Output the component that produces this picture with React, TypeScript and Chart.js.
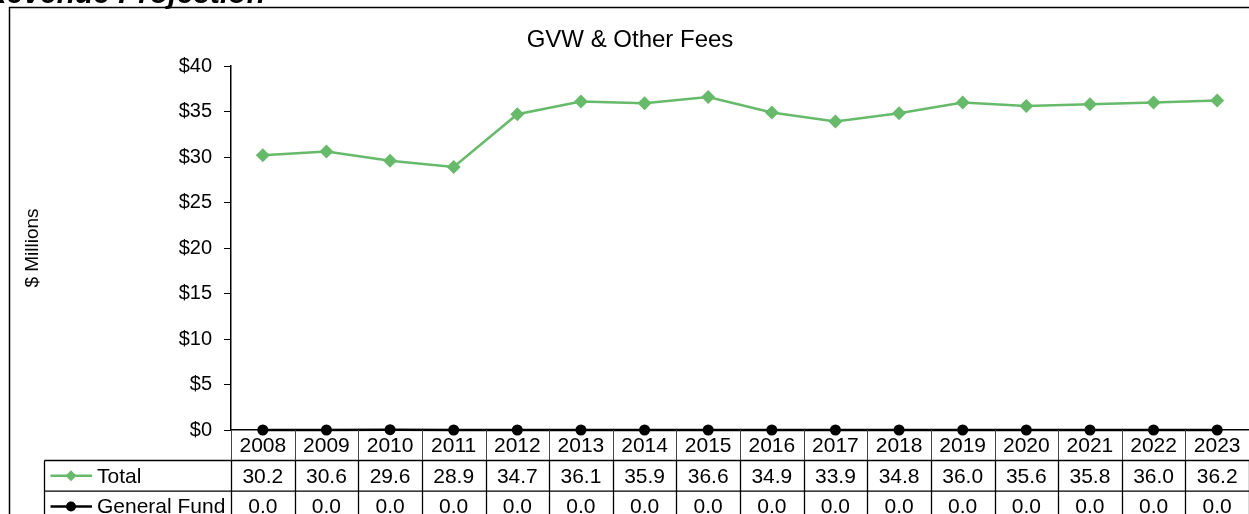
import React, { useEffect, useRef } from "react";
import { Chart, registerables } from "chart.js";

Chart.register(...registerables);

const years = ["2008", "2009", "2010", "2011", "2012", "2013", "2014", "2015", "2016", "2017", "2018", "2019", "2020", "2021", "2022", "2023"];
const totalValues = [30.2, 30.6, 29.6, 28.9, 34.7, 36.1, 35.9, 36.6, 34.9, 33.9, 34.8, 36.0, 35.6, 35.8, 36.0, 36.2];
const generalFundValues = [0.0, 0.0, 0.04, 0.0, 0.0, 0.0, 0.0, 0.0, 0.0, 0.0, 0.0, 0.0, 0.0, 0.0, 0.0, 0.0];
const seriesNames = ["Total", "General Fund"];
const chartTitle = "GVW & Other Fees";
const pageTitle = "Revenue Projection";
const yAxisTitle = "$ Millions";
const yMin = 0;
const yMax = 40;
const yStep = 5;

const GREEN = "#66BA6A";
const FONT = "Arial, 'Liberation Sans', sans-serif";
const VIEW_W = 1249;
const CANVAS_W = 1256;
const H = 514;

const framePlugin = {
  id: "frameAndTable",
  beforeDraw(chart: any) {
    const ctx = chart.ctx;
    ctx.save();
    ctx.fillStyle = "#fff";
    ctx.fillRect(0, 0, chart.width, chart.height);
    // chart border
    ctx.strokeStyle = "#000";
    ctx.lineWidth = 1.5;
    ctx.beginPath();
    ctx.moveTo(9.5, chart.height + 2);
    ctx.lineTo(9.5, 7.5);
    ctx.lineTo(chart.width + 2, 7.5);
    ctx.stroke();
    // page title (clipped at top)
    ctx.fillStyle = "#000";
    ctx.font = `italic bold 30px ${FONT}`;
    ctx.textAlign = "right";
    ctx.textBaseline = "alphabetic";
    ctx.fillText(pageTitle, 265, 3);
    // chart title
    ctx.font = `24px ${FONT}`;
    ctx.textAlign = "center";
    ctx.fillText(chartTitle, 630, 47);
    ctx.restore();
  },
  afterDraw(chart: any) {
    const ctx = chart.ctx;
    const xs = chart.scales.x;
    const area = chart.chartArea;
    const n = years.length;
    const left = area.left;
    const right = area.right;
    const colW = (right - left) / n;
    const top = area.bottom;
    const r1 = top + 30.5;
    const r2 = r1 + 30.7;
    const r3 = r2 + 30.7;
    const legendLeft = 44.5;
    ctx.save();
    ctx.strokeStyle = "#000";
    ctx.lineWidth = 1.3;
    // horizontal lines
    ctx.beginPath();
    ctx.moveTo(legendLeft, r1);
    ctx.lineTo(chart.width + 2, r1);
    ctx.moveTo(legendLeft, r2);
    ctx.lineTo(chart.width + 2, r2);
    ctx.stroke();
    // legend left border
    ctx.beginPath();
    ctx.moveTo(legendLeft, r1);
    ctx.lineTo(legendLeft, chart.height + 2);
    ctx.stroke();
    // column dividers
    for (let i = 0; i <= n; i++) {
      const x = Math.round(left + i * colW) + 0.5;
      ctx.strokeStyle = "#444";
      ctx.lineWidth = 1;
      ctx.beginPath();
      ctx.moveTo(x, top);
      ctx.lineTo(x, r1);
      ctx.stroke();
      ctx.strokeStyle = "#000";
      ctx.lineWidth = 1.3;
      ctx.beginPath();
      ctx.moveTo(x, r1);
      ctx.lineTo(x, chart.height + 2);
      ctx.stroke();
    }
    // texts
    ctx.fillStyle = "#000";
    ctx.font = `21px ${FONT}`;
    ctx.textAlign = "center";
    ctx.textBaseline = "middle";
    const rows = [totalValues, generalFundValues];
    for (let i = 0; i < n; i++) {
      const cx = xs.getPixelForValue(i);
      ctx.fillText(years[i], cx, (top + r1) / 2 + 1);
      ctx.fillText(rows[0][i].toFixed(1), cx, (r1 + r2) / 2 + 1);
      ctx.fillText(rows[1][i].toFixed(1), cx, (r2 + r3) / 2 + 1);
    }
    // legend keys
    const keyColors = [GREEN, "#000"];
    const rowCenters = [(r1 + r2) / 2, (r2 + r3) / 2];
    for (let k = 0; k < 2; k++) {
      const y = rowCenters[k];
      ctx.strokeStyle = keyColors[k];
      ctx.fillStyle = keyColors[k];
      ctx.lineWidth = 2.5;
      ctx.beginPath();
      ctx.moveTo(50.5, y);
      ctx.lineTo(92, y);
      ctx.stroke();
      ctx.beginPath();
      if (k === 0) {
        const r = 5.5;
        ctx.moveTo(71 - r, y);
        ctx.lineTo(71, y - r);
        ctx.lineTo(71 + r, y);
        ctx.lineTo(71, y + r);
        ctx.closePath();
      } else {
        ctx.arc(71, y, 5, 0, Math.PI * 2);
      }
      ctx.fill();
      ctx.fillStyle = "#000";
      ctx.textAlign = "left";
      ctx.fillText(seriesNames[k], 97, y + 1);
    }
    ctx.restore();
  },
};

export default function App() {
  const canvasRef = useRef<HTMLCanvasElement | null>(null);
  useEffect(() => {
    const canvas = canvasRef.current;
    if (!canvas) return;
    const chart = new Chart(canvas, {
      type: "line",
      data: {
        labels: years,
        datasets: [
          {
            label: seriesNames[1],
            data: generalFundValues,
            borderColor: "#000",
            backgroundColor: "#000",
            borderWidth: 2.5,
            pointStyle: "circle",
            pointRadius: 5.5,
            pointBorderWidth: 0,
            pointBackgroundColor: "#000",
            tension: 0,
            clip: false,
            order: 2,
          },
          {
            label: seriesNames[0],
            data: totalValues,
            borderColor: GREEN,
            backgroundColor: GREEN,
            borderWidth: 2.5,
            pointStyle: "rectRot",
            pointRadius: 7,
            pointBorderWidth: 0,
            pointBackgroundColor: GREEN,
            tension: 0,
            clip: false,
            order: 1,
          },
        ],
      },
      options: {
        responsive: false,
        animation: false,
        events: [],
        layout: { padding: { top: 66, left: 21, right: 0, bottom: 0 } },
        plugins: {
          legend: { display: false },
          title: { display: false },
          tooltip: { enabled: false },
        },
        scales: {
          x: {
            type: "category",
            offset: true,
            ticks: { display: false },
            grid: { display: false },
            border: { display: true, color: "#000", width: 1.5 },
            afterFit: (s: any) => {
              s.height = 84;
            },
          },
          y: {
            min: yMin,
            max: yMax,
            ticks: {
              stepSize: yStep,
              color: "#000",
              padding: 12,
              font: { family: FONT, size: 20 },
              callback: (v: any) => "$" + v,
            },
            grid: { display: true, drawOnChartArea: false, drawTicks: true, tickLength: 7, color: "#000" },
            border: { display: true, color: "#000", width: 1.5 },
            title: {
              display: true,
              text: yAxisTitle,
              color: "#000",
              font: { family: FONT, size: 19 },
              padding: { top: 0, bottom: 0 },
            },
            afterFit: (s: any) => {
              s.width = 210;
            },
          },
        },
      },
      plugins: [framePlugin],
    });
    return () => chart.destroy();
  }, []);
  return (
    <div style={{ position: "fixed", left: 0, top: 0, width: VIEW_W, height: H, overflow: "hidden", background: "#fff" }}>
      <canvas ref={canvasRef} width={CANVAS_W} height={H} style={{ display: "block" }} />
    </div>
  );
}
